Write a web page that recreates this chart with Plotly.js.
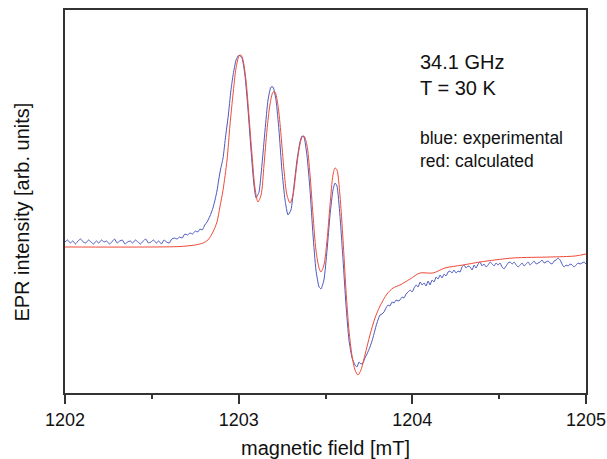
<!DOCTYPE html>
<html>
<head>
<meta charset="utf-8">
<script src="https://cdn.plot.ly/plotly-3.0.1.min.js"></script>
<style>html,body{margin:0;padding:0;background:#fff;}#chart{width:607px;height:459px;}</style>
</head>
<body>
<div id="chart"></div>
<script>
// magnetic field [mT]
const expField = [
1202.000,1202.015,1202.030,1202.045,1202.060,1202.075,1202.090,1202.105,1202.120,1202.135,
1202.150,1202.165,1202.180,1202.195,1202.210,1202.225,1202.240,1202.255,1202.270,1202.285,
1202.300,1202.315,1202.330,1202.345,1202.360,1202.375,1202.390,1202.405,1202.420,1202.435,
1202.450,1202.465,1202.480,1202.495,1202.510,1202.525,1202.540,1202.555,1202.570,1202.585,
1202.600,1202.615,1202.630,
1202.645,1202.660,1202.675,1202.690,1202.705,1202.720,1202.735,1202.750,1202.765,1202.777,
1202.790,1202.805,1202.818,1202.835,1202.852,1202.865,1202.875,1202.885,1202.895,1202.910,
1202.925,1202.940,1202.955,1202.967,1202.985,1203.002,1203.019,1203.036,1203.054,1203.071,
1203.088,1203.100,1203.117,1203.134,1203.152,1203.169,1203.186,1203.198,1203.215,1203.232,
1203.249,1203.267,1203.284,1203.301,1203.319,1203.336,1203.353,1203.365,1203.376,1203.393,
1203.411,1203.428,1203.445,1203.463,1203.474,1203.491,1203.509,1203.526,1203.543,1203.555,
1203.566,1203.583,1203.601,1203.618,1203.635,1203.653,1203.670,1203.681,1203.693,1203.704,
1203.716,1203.727,1203.739,1203.756,1203.768,1203.779,1203.791,1203.802,1203.814,1203.825,
1203.837,1203.848,1203.860,1203.871,1203.883,1203.895,1203.906,1203.918,1203.929,1203.941,
1203.952,1203.964,1203.976,1203.987,1203.999,1204.010,1204.022,1204.033,1204.045,1204.056,
1204.068,1204.079,1204.091,1204.102,1204.114,1204.125,1204.137,1204.148,1204.160,1204.171,
1204.183,1204.194,1204.206,1204.217,1204.229,1204.240,1204.252,1204.263,1204.275,1204.286,
1204.298,1204.309,1204.321,1204.333,1204.344,1204.356,1204.367,1204.379,1204.390,1204.402,
1204.413,1204.425,1204.436,1204.448,1204.459,1204.471,1204.482,1204.494,1204.505,1204.517,
1204.528,1204.540,1204.551,1204.563,1204.575,1204.586,1204.598,1204.609,1204.621,1204.632,
1204.644,1204.655,1204.667,1204.678,1204.690,1204.701,1204.713,1204.724,1204.736,1204.747,
1204.759,1204.770,1204.782,1204.793,1204.805,1204.816,1204.828,1204.839,1204.851,1204.862,
1204.874,1204.885,1204.897,1204.908,1204.920,1204.931,1204.943,1204.954,1204.966,1204.977,
1204.989,1205.000
];
// experimental EPR intensity [arb. units]
const expIntensity = [
4,6,3,5,2,5,7,4,3,6,
4,2,5,3,6,4,5,2,4,7,
3,5,6,2,4,5,3,6,4,2,
5,7,3,4,6,3,5,2,6,4,
3,7,8,
7,9,8,12,11,13,12,15,14,17,
16,21,24,30,38,47,55,66,76,88,
110,130,155,170,186,191,188,171,136,96,
61,48,54,81,116,146,159,159,146,116,
76,46,31,36,61,86,104,110,109,91,
56,11,-24,-41,-43,-34,-4,31,56,63,
60,31,-14,-59,-94,-112,-119,-121,-116,-118,
-117,-112,-108,-101,-95,-88,-80,-74,-69,-68,
-66,-62,-59,-60,-56,-57,-54,-55,-54,-51,
-52,-48,-46,-44,-46,-42,-39,-41,-36,-39,
-37,-40,-35,-39,-34,-36,-31,-33,-29,-32,
-28,-30,-26,-25,-27,-24,-27,-25,-26,-21,
-19,-22,-20,-21,-24,-19,-22,-18,-16,-20,
-18,-21,-19,-16,-18,-20,-17,-19,-17,-21,
-23,-20,-17,-16,-18,-16,-19,-21,-19,-17,
-20,-18,-16,-19,-17,-15,-18,-17,-16,-14,
-17,-16,-15,-17,-18,-15,-14,-12,-14,-18,
-21,-19,-20,-18,-19,-21,-19,-17,-18,-17,
-16,-18
];
// calculated spectrum
const calcField = [
1202.000,1202.489,1202.662,1202.749,1202.795,1202.823,1202.852,1202.875,1202.892,1202.910,
1202.933,1202.950,1202.967,1202.985,1203.002,1203.013,1203.025,1203.042,1203.059,1203.077,
1203.094,1203.111,1203.129,1203.146,1203.163,1203.180,1203.198,1203.209,1203.226,1203.244,
1203.261,1203.278,1203.296,1203.313,1203.330,1203.347,1203.365,1203.376,1203.393,1203.411,
1203.428,1203.445,1203.463,1203.474,1203.491,1203.509,1203.526,1203.543,1203.555,1203.566,
1203.583,1203.601,1203.618,1203.635,1203.653,1203.670,1203.687,1203.704,1203.727,1203.756,
1203.785,1203.814,1203.854,1203.889,1203.929,1203.987,1204.044,1204.119,1204.188,1204.292,
1204.390,1204.580,1204.793,1204.937,1205.000
];
const calcIntensity = [
-1,-1,-0.5,1,3,6,14,24,39,56,
86,121,151,178,190,191,186,166,131,91,
58,44,51,81,116,141,154,154,141,111,
76,51,43,51,74,96,109,110,101,71,
31,-4,-22,-26,-19,6,41,71,78,76,
51,6,-44,-84,-110,-124,-129,-124,-109,-89,
-72,-60,-48,-42,-39,-33,-27,-27,-22,-19,
-16,-12,-11,-10,-8
];
const xTickVals = [1202, 1203, 1204, 1205];
const xTickText = ['1202', '1203', '1204', '1205'];

const FONT = 'Liberation Sans, Arial, sans-serif';
const traces = [
  {x: expField, y: expIntensity, type: 'scatter', mode: 'lines', name: 'experimental',
   line: {color: '#4a58c0', width: 1, shape: 'spline', smoothing: 0.5}},
  {x: calcField, y: calcIntensity, type: 'scatter', mode: 'lines', name: 'calculated',
   line: {color: '#f04a38', width: 1, shape: 'spline', smoothing: 0.8}}
];
const layout = {
  width: 607, height: 459,
  margin: {l: 65, r: 21, t: 10, b: 66},
  paper_bgcolor: '#fff', plot_bgcolor: '#fff',
  showlegend: false,
  font: {family: FONT, color: '#111', size: 18},
  xaxis: {
    range: [1202, 1205], tickvals: xTickVals, ticktext: xTickText,
    ticks: 'outside', ticklen: 9, tickwidth: 2, tickcolor: '#333',
    minor: {dtick: 0.5, tick0: 1202, ticks: 'outside', ticklen: 4, tickwidth: 2, tickcolor: '#333'},
    showline: true, mirror: true, linecolor: '#333', linewidth: 2,
    showgrid: false, zeroline: false,
    tickfont: {size: 18, family: FONT, color: '#111'},
    title: {text: 'magnetic field [mT]', font: {size: 20, family: FONT, color: '#111'}, standoff: 12}
  },
  yaxis: {
    range: [-147, 236], showticklabels: false, ticks: '',
    showline: true, mirror: true, linecolor: '#333', linewidth: 2,
    showgrid: false, zeroline: false
  },
  annotations: [
    {text: 'EPR intensity [arb. units]', xref: 'paper', yref: 'paper', x: -0.083, y: 0.473,
     textangle: -90, showarrow: false, xanchor: 'center', yanchor: 'middle',
     font: {size: 20, family: FONT, color: '#111'}},
    {text: '34.1 GHz', xref: 'paper', yref: 'paper', x: 0.6775, y: 0.864, showarrow: false,
     xanchor: 'left', yanchor: 'middle', font: {size: 20, family: FONT, color: '#111'}},
    {text: 'T = 30 K', xref: 'paper', yref: 'paper', x: 0.6775, y: 0.796, showarrow: false,
     xanchor: 'left', yanchor: 'middle', font: {size: 20, family: FONT, color: '#111'}},
    {text: 'blue: experimental', xref: 'paper', yref: 'paper', x: 0.6775, y: 0.666, showarrow: false,
     xanchor: 'left', yanchor: 'middle', font: {size: 17.5, family: FONT, color: '#111'}},
    {text: 'red: calculated', xref: 'paper', yref: 'paper', x: 0.6775, y: 0.606, showarrow: false,
     xanchor: 'left', yanchor: 'middle', font: {size: 17.5, family: FONT, color: '#111'}}
  ]
};
Plotly.newPlot('chart', traces, layout, {displayModeBar: false, staticPlot: true});
</script>
</body>
</html>
